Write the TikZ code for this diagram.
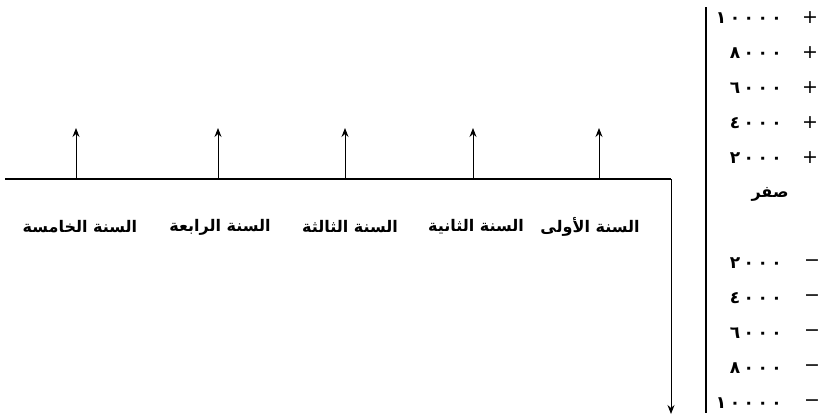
\documentclass[tikz,border=0pt]{standalone}
\usepackage{fontspec}
\usetikzlibrary{arrows.meta}
\TeXXeTstate=1
\newfontfamily\arabicfont[Script=Arabic]{DejaVu Sans}
\newfontfamily\numfont{DejaVu Sans}
\newcommand\dsp{\kern3.5pt}
\begin{document}
\begin{tikzpicture}[x=1pt,y=-1pt,
  axis/.style={line width=1.3pt},
  tipstyle/.style={-{Stealth[length=9pt,width=7pt,inset=3pt]}},
  uparrow/.style={tipstyle, line width=0.9pt},
  lab/.style={font=\arabicfont\bfseries\fontsize{16}{18}\selectfont, inner sep=0pt},
  num/.style={font=\numfont\bfseries\fontsize{17}{19}\selectfont, anchor=east, inner sep=0pt},
  sgn/.style={font=\numfont\fontsize{19}{21}\selectfont, inner sep=0pt}]
\useasboundingbox (0,0) rectangle (823,416);
% axes
\coordinate (L) at (5,179);
\coordinate (R) at (671,179);
\coordinate (Rb) at (671,414);
\coordinate (Vt) at (706,7);
\coordinate (Vb) at (706,413);
\draw[axis] (L) -- (R);
\draw[line width=0.9pt,tipstyle] (R) -- (Rb);
\draw[line width=1.6pt] (Vt) -- (Vb);
% up arrows
\foreach \i/\x in {1/599,2/473,3/345,4/218,5/76}{
  \coordinate (b\i) at (\x,179);
  \coordinate (t\i) at (\x,128);
  \draw[uparrow] (b\i) -- (t\i);
}
% year labels
\node[lab] (y1) at (590,227) {\beginR السنة الأولى\endR};
\node[lab] (y2) at (476,227) {\beginR السنة الثانية\endR};
\node[lab] (y3) at (350,227) {\beginR السنة الثالثة\endR};
\node[lab] (y4) at (220,227) {\beginR السنة الرابعة\endR};
\node[lab] (y5) at (80,227) {\beginR السنة الخامسة\endR};
% positive scale
\node[num] (p10) at (782,18) {١\dsp٠\dsp٠\dsp٠\dsp٠};
\node[num] (p8) at (782,53) {٨\dsp٠\dsp٠\dsp٠};
\node[num] (p6) at (782,88) {٦\dsp٠\dsp٠\dsp٠};
\node[num] (p4) at (782,123) {٤\dsp٠\dsp٠\dsp٠};
\node[num] (p2) at (782,158) {٢\dsp٠\dsp٠\dsp٠};
\foreach \n/\y in {a/18,b/53,c/88,d/123,e/158}{
  \node[sgn] (ps\n) at (810,\y) {+};
}
\node[lab] (zero) at (770,194) {\beginR صفر\endR};
% negative scale
\node[num] (m2) at (782,263) {٢\dsp٠\dsp٠\dsp٠};
\node[num] (m4) at (782,298) {٤\dsp٠\dsp٠\dsp٠};
\node[num] (m6) at (782,333) {٦\dsp٠\dsp٠\dsp٠};
\node[num] (m8) at (782,368) {٨\dsp٠\dsp٠\dsp٠};
\node[num] (m10) at (782,403) {١\dsp٠\dsp٠\dsp٠\dsp٠};
\foreach \n/\y in {a/263,b/298,c/333,d/368,e/403}{
  \node[sgn] (ms\n) at (812,\y) {−};
}
\end{tikzpicture}
\end{document}
